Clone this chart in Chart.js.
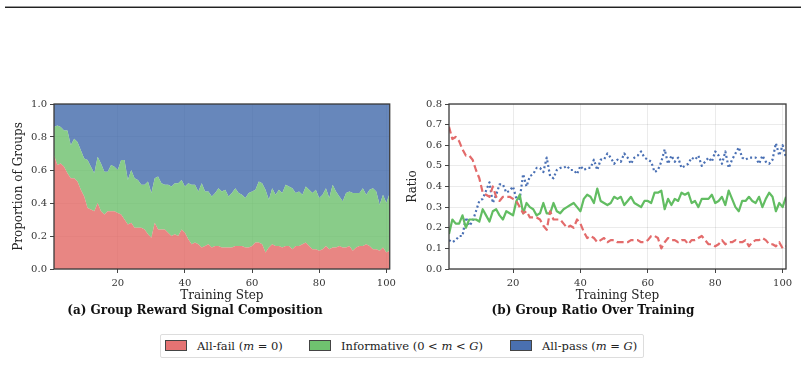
<!DOCTYPE html>
<html>
<head>
<meta charset="utf-8">
<script src="https://cdn.jsdelivr.net/npm/chart.js@4.4.1/dist/chart.umd.min.js"></script>
<style>
  body { margin: 0; background: #fff; width: 804px; height: 365px; position: relative; overflow: hidden; font-family: "DejaVu Serif", serif; }
  .rule { position: absolute; left: 5px; top: 6px; width: 796px; height: 1px; background: #999; border-bottom: 1px solid #222; }
  canvas { position: absolute; }
  #legend { position: absolute; left: 160px; top: 334px; width: 482px; height: 22px; border: 1px solid #ddd; border-radius: 2px;
            font-size: 11.5px; color: #222; }
  #legend .item { position: absolute; top: 4px; height: 14px; line-height: 14px; white-space: nowrap; }
  #legend .sw { display: inline-block; width: 22px; height: 11px; vertical-align: -1px; margin-right: 10px; border: 1px solid #444; box-sizing: border-box; }
</style>
</head>
<body>
<div class="rule"></div>
<canvas id="compChart" width="400" height="230" style="left:0;top:90px"></canvas>
<canvas id="ratioChart" width="404" height="230" style="left:400px;top:90px"></canvas>
<div id="legend">
  <div class="item" style="left:4px"><span class="sw" style="background:#e57373"></span>All-fail (<i>m</i> = 0)</div>
  <div class="item" style="left:148px"><span class="sw" style="background:#6fc36f"></span>Informative (0 &lt; <i>m</i> &lt; <i>G</i>)</div>
  <div class="item" style="left:349px"><span class="sw" style="background:#4a70b0"></span>All-pass (<i>m</i> = <i>G</i>)</div>
</div>
<script>
const steps = Array.from({ length: 101 }, (_, i) => i + 1);

const allFail = [
  .69, .63, .64, .62, .58, .55, .55, .53, .48, .44,
  .37, .36, .35, .40, .35, .33, .35, .35, .35, .34,
  .33, .30, .27, .28, .25, .25, .25, .24, .21, .19,
  .28, .24, .24, .24, .22, .20, .21, .20, .24, .22,
  .18, .15, .16, .15, .13, .14, .15, .13, .14, .14,
  .13, .13, .13, .13, .14, .14, .14, .13, .13, .14,
  .16, .16, .15, .10, .13, .15, .14, .14, .13, .14,
  .14, .12, .14, .14, .15, .16, .14, .12, .12, .11,
  .12, .14, .12, .13, .13, .14, .13, .13, .14, .11,
  .13, .14, .14, .15, .14, .12, .12, .11, .13, .10,
  .11
];

const informative = [
  .17, .24, .22, .22, .26, .20, .24, .24, .24, .23,
  .29, .26, .23, .28, .29, .26, .24, .28, .27, .26,
  .33, .36, .27, .32, .30, .29, .26, .27, .32, .27,
  .27, .32, .28, .27, .29, .30, .31, .32, .30, .28,
  .34, .36, .35, .32, .39, .33, .32, .31, .32, .35,
  .34, .35, .31, .33, .35, .32, .31, .30, .33, .33,
  .32, .37, .37, .38, .29, .34, .31, .34, .33, .37,
  .36, .37, .32, .33, .30, .34, .34, .34, .36, .32,
  .33, .35, .31, .38, .34, .30, .28, .33, .33, .35,
  .33, .32, .35, .30, .34, .37, .35, .28, .32, .30,
  .35
];

const allPass = [
  .14, .13, .14, .16, .16, .25, .21, .23, .28, .33,
  .34, .38, .42, .32, .36, .41, .41, .37, .38, .40,
  .34, .34, .46, .40, .45, .46, .49, .49, .47, .54,
  .45, .44, .48, .49, .49, .50, .48, .48, .46, .50,
  .48, .49, .49, .53, .48, .53, .53, .56, .54, .51,
  .53, .52, .56, .54, .51, .54, .55, .57, .54, .53,
  .52, .47, .48, .52, .58, .51, .55, .52, .54, .49,
  .50, .51, .54, .53, .55, .50, .52, .54, .52, .57,
  .55, .51, .57, .49, .53, .56, .59, .54, .53, .54,
  .54, .54, .51, .55, .52, .51, .53, .61, .55, .60,
  .54
];

const xTicks = [20, 40, 60, 80, 100];

const FONT = "'DejaVu Serif', serif";
const pts = arr => arr.map((v, i) => ({ x: steps[i], y: v }));

const frame = {
  id: 'frame',
  afterDraw(chart) {
    const { ctx, chartArea: a } = chart;
    ctx.save();
    ctx.strokeStyle = '#3a3a3a';
    ctx.lineWidth = 1.3;
    ctx.strokeRect(a.left, a.top, a.right - a.left, a.bottom - a.top);
    ctx.restore();
  }
};

function xScale() {
  return {
    type: 'linear', min: 1, max: 101,
    afterBuildTicks: s => { s.ticks = xTicks.map(v => ({ value: v })); },
    afterFit: s => { s.height = 34.8; },
    grid: { color: 'rgba(0,0,0,0.08)', tickColor: '#444', tickLength: 4 },
    border: { display: false },
    ticks: { font: { family: FONT, size: 10 }, color: '#333', padding: 4, maxRotation: 0 },
    title: { display: true, text: 'Training Step', font: { family: FONT, size: 12 }, color: '#222', padding: { top: 0, bottom: 1.2 } }
  };
}

function yScale(max, step, width, label, titlePad, extra) {
  return Object.assign({
    min: 0, max: max,
    afterFit: s => { s.width = width; },
    grid: { color: 'rgba(0,0,0,0.08)', tickColor: '#444', tickLength: 4 },
    border: { display: false },
    ticks: { stepSize: step, font: { family: FONT, size: 10 }, color: '#333', padding: 3, callback: v => v.toFixed(1) },
    title: { display: true, text: label, font: { family: FONT, size: 12 }, color: '#222', padding: { top: titlePad, bottom: 0 } }
  }, extra || {});
}

function caption(text) {
  return { display: true, position: 'bottom', text: text, color: '#111', padding: 0,
           font: { family: FONT, size: 12, weight: 'bold' } };
}

new Chart(document.getElementById('compChart'), {
  type: 'line',
  data: {
    datasets: [
      { label: 'All-fail', data: pts(allFail), backgroundColor: 'rgba(226,104,100,0.8)', fill: 'origin' },
      { label: 'Informative', data: pts(informative), backgroundColor: 'rgba(107,191,107,0.8)', fill: '-1' },
      { label: 'All-pass', data: pts(allPass), backgroundColor: 'rgba(65,105,170,0.8)', fill: '-1' }
    ]
  },
  options: {
    responsive: false, animation: false,
    elements: { point: { radius: 0 }, line: { borderWidth: 0, tension: 0 } },
    layout: { padding: { top: 14, right: 10, left: 0, bottom: 1.8 } },
    plugins: { legend: { display: false }, tooltip: { enabled: false }, title: caption('(a) Group Reward Signal Composition') },
    scales: { x: xScale(), y: yScale(1, 0.2, 54, 'Proportion of Groups', 11.5, { stacked: true }) }
  },
  plugins: [frame]
});

new Chart(document.getElementById('ratioChart'), {
  type: 'line',
  data: {
    datasets: [
      { label: 'All-fail', data: pts(allFail), borderColor: '#e36b6b', borderWidth: 2.2, borderDash: [7, 3.5] },
      { label: 'Informative', data: pts(informative), borderColor: '#62bd62', borderWidth: 2.2 },
      { label: 'All-pass', data: pts(allPass), borderColor: '#4a70b4', borderWidth: 2.2, borderDash: [2, 2.6] }
    ]
  },
  options: {
    responsive: false, animation: false,
    elements: { point: { radius: 0 }, line: { tension: 0, fill: false, borderJoinStyle: 'round' } },
    layout: { padding: { top: 14, right: 18, left: 0, bottom: 1.8 } },
    plugins: { legend: { display: false }, tooltip: { enabled: false }, title: caption('(b) Group Ratio Over Training') },
    scales: { x: xScale(), y: yScale(0.8, 0.1, 49, 'Ratio', 5.8) }
  },
  plugins: [frame]
});
</script>
</body>
</html>
